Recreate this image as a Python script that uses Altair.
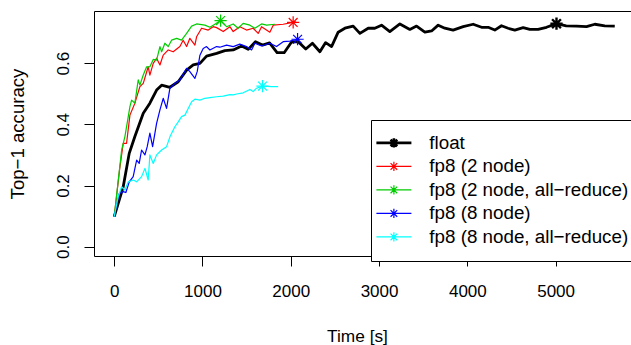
import altair as alt
import pandas as pd

# ---- data ----
series_names = ["float", "fp8 (2 node)", "fp8 (2 node, all\u2212reduce)",
                "fp8 (8 node)", "fp8 (8 node, all\u2212reduce)"]
series_colors = ["#000000", "#FF0000", "#00CD00", "#0000FF", "#00FFFF"]

float_t = [0, 102, 170, 234, 329, 404, 480, 537, 631, 725, 820, 895, 971, 1046, 1160,
           1254, 1348, 1443, 1518, 1600, 1680, 1760, 1845, 1925, 2009, 2084, 2170, 2245,
           2330, 2395, 2462, 2537, 2613, 2707, 2783, 2877, 2952, 3028, 3122, 3236, 3349,
           3425, 3519, 3595, 3670, 3745, 3839, 3953, 4066, 4161, 4236, 4311, 4387, 4462,
           4538, 4632, 4708, 4802, 4897, 5010, 5120, 5237, 5350, 5444, 5557, 5670]
float_acc = [0.098, 0.196, 0.305, 0.360, 0.436, 0.469, 0.512, 0.528, 0.521, 0.539, 0.577,
             0.594, 0.599, 0.623, 0.632, 0.641, 0.643, 0.656, 0.645, 0.670, 0.659, 0.666,
             0.634, 0.634, 0.669, 0.670, 0.646, 0.665, 0.637, 0.667, 0.654, 0.701, 0.714,
             0.721, 0.697, 0.714, 0.714, 0.724, 0.703, 0.728, 0.710, 0.721, 0.701, 0.705,
             0.724, 0.714, 0.708, 0.719, 0.727, 0.717, 0.717, 0.708, 0.722, 0.714, 0.708,
             0.716, 0.710, 0.710, 0.717, 0.729, 0.722, 0.721, 0.719, 0.727, 0.722, 0.721]

red_t = [0, 60, 102, 140, 178, 234, 291, 329, 385, 404, 442, 480, 518, 555, 612, 668, 744,
         781, 820, 857, 914, 933, 990, 1065, 1121, 1160, 1235, 1310, 1348, 1423, 1499,
         1574, 1631, 1669, 1763, 1801, 1914, 2027, 2060]
red_acc = [0.098, 0.250, 0.338, 0.338, 0.430, 0.469, 0.523, 0.534, 0.588, 0.561, 0.599,
           0.616, 0.594, 0.626, 0.643, 0.637, 0.654, 0.675, 0.654, 0.681, 0.659, 0.686,
           0.714, 0.708, 0.719, 0.716, 0.703, 0.719, 0.703, 0.719, 0.708, 0.714, 0.697,
           0.719, 0.701, 0.724, 0.727, 0.733, 0.735]

green_t = [0, 84, 121, 178, 197, 234, 272, 291, 329, 367, 404, 442, 480, 518, 537, 574, 612,
           650, 707, 763, 820, 877, 933, 1027, 1084, 1140, 1205, 1273, 1348, 1404, 1461,
           1537, 1593, 1669, 1726, 1820]
green_acc = [0.098, 0.316, 0.360, 0.458, 0.479, 0.469, 0.545, 0.528, 0.561, 0.588, 0.588,
             0.612, 0.610, 0.654, 0.637, 0.665, 0.654, 0.675, 0.681, 0.675, 0.697, 0.721,
             0.728, 0.724, 0.717, 0.727, 0.739, 0.719, 0.728, 0.714, 0.730, 0.724, 0.714,
             0.728, 0.724, 0.727]

blue_t = [0, 57, 102, 132, 170, 215, 254, 283, 310, 348, 374, 404, 435, 480, 518, 555, 593,
          631, 687, 744, 820, 857, 914, 940, 971, 1008, 1046, 1084, 1160, 1197, 1273, 1348,
          1423, 1499, 1556, 1593, 1669, 1763, 1839, 1914, 1990, 2077, 2100]
blue_acc = [0.098, 0.174, 0.180, 0.177, 0.212, 0.229, 0.283, 0.272, 0.316, 0.300, 0.327,
            0.371, 0.327, 0.403, 0.447, 0.485, 0.452, 0.518, 0.534, 0.545, 0.583, 0.572,
            0.550, 0.572, 0.626, 0.648, 0.654, 0.643, 0.654, 0.652, 0.659, 0.654, 0.662,
            0.654, 0.643, 0.665, 0.656, 0.665, 0.654, 0.670, 0.672, 0.678, 0.676]

cyan_t = [0, 45, 84, 121, 159, 215, 254, 310, 348, 385, 404, 442, 480, 537, 593, 631, 687,
          725, 763, 801, 838, 877, 914, 971, 1027, 1084, 1160, 1235, 1310, 1348, 1386, 1461,
          1537, 1574, 1612, 1680, 1782, 1857]
cyan_acc = [0.098, 0.163, 0.196, 0.185, 0.212, 0.218, 0.212, 0.229, 0.256, 0.218, 0.300,
            0.272, 0.300, 0.316, 0.327, 0.359, 0.392, 0.408, 0.425, 0.430, 0.452, 0.474,
            0.482, 0.479, 0.485, 0.487, 0.490, 0.492, 0.497, 0.496, 0.499, 0.503, 0.514,
            0.507, 0.518, 0.525, 0.523, 0.523]

# marked (best) points
star_series = series_names
star_t = [5010, 2027, 1205, 2077, 1680]
star_acc = [0.729, 0.733, 0.739, 0.678, 0.525]

x_ticks = [0, 1000, 2000, 3000, 4000, 5000]
y_ticks = [0.0, 0.2, 0.4, 0.6]

# ---- build tables ----
rows = []
for name, ts, accs in zip(series_names,
                          [float_t, red_t, green_t, blue_t, cyan_t],
                          [float_acc, red_acc, green_acc, blue_acc, cyan_acc]):
    for t, a in zip(ts, accs):
        rows.append({"series": name, "t": t, "acc": a})
lines_df = pd.DataFrame(rows)
stars_df = pd.DataFrame({"series": star_series, "t": star_t, "acc": star_acc})

FONT = "Liberation Sans"
legend_path = ("M-1,0L1,0M0,-0.26L0,0.26M-0.26,0L0.26,0"
               "M-0.19,-0.19L0.19,0.19M-0.19,0.19L0.19,-0.19")
star_path = ("M-1,0L1,0M0,-1L0,1M-0.72,-0.72L0.72,0.72M-0.72,0.72L0.72,-0.72")

x_scale = alt.Scale(domain=[-229, 5854], nice=False, zero=False)
y_scale = alt.Scale(domain=[-0.0304, 0.7703], nice=False, zero=False)

legend = alt.Legend(
    title=None, orient="none", legendX=277, legendY=109,
    symbolType=legend_path, symbolSize=1225,
    symbolStrokeWidth={"expr": "datum.value === 'float' ? 2.6 : 1.2"},
    symbolOffset=0, labelOffset=26, labelFont=FONT, labelFontSize=18.8,
    labelColor="black", labelLimit=400, rowPadding=3.5, padding=13.5,
    strokeColor="black", fillColor="white", cornerRadius=0,
)
color_enc = alt.Color("series:N",
                      scale=alt.Scale(domain=series_names, range=series_colors),
                      legend=legend)

y_axis = alt.Axis(values=y_ticks, format=".1f", title="Top\u22121 accuracy",
                  labelAngle=270, labelAlign="center", labelBaseline="bottom",
                  labelPadding=12, titleAngle=270, titleX=-76.5, titleY=122.5,
                  titleBaseline="middle", titleAlign="center", titleFontSize=18.6)

x_enc = alt.X("t:Q", scale=x_scale,
              axis=alt.Axis(orient="bottom", values=x_ticks, title="Time [s]", format="d",
                            titleX=263, titleY=80.5, titleBaseline="middle",
                            titleAlign="center", titleFontSize=17.3))
y_enc = alt.Y("acc:Q", scale=y_scale, axis=y_axis)

lines = alt.Chart(lines_df).mark_line(strokeJoin="round").encode(
    x=x_enc, y=y_enc, color=color_enc,
    strokeWidth=alt.condition(alt.datum.series == "float", alt.value(2.8), alt.value(1.2)),
    order="t:Q",
)

stars = alt.Chart(stars_df).mark_point(shape=star_path, size=150, filled=False,
                                       opacity=1).encode(
    x=alt.X("t:Q", scale=x_scale, axis=None),
    y=alt.Y("acc:Q", scale=y_scale, axis=y_axis),
    color=color_enc,
    strokeWidth=alt.condition(alt.datum.series == "float", alt.value(2.4), alt.value(1.2)),
)

# top frame line of the plot box
top_frame = alt.Chart(stars_df).mark_point(opacity=0).encode(
    x=alt.X("t:Q", scale=x_scale,
            axis=alt.Axis(orient="top", labels=False, ticks=False, title=None,
                          domain=True, domainColor="black", domainWidth=1)),
)

chart = alt.layer(lines, stars, top_frame).resolve_axis(x="independent").properties(
    width=537, height=245,
    padding={"left": 94, "top": 11, "right": 0, "bottom": 89},
    autosize=alt.AutoSizeParams(type="none"),
    background="white",
).configure_view(stroke=None).configure_axis(
    grid=False, domain=True, domainColor="black", domainWidth=1,
    tickColor="black", tickSize=10, tickWidth=1,
    labelFont=FONT, labelFontSize=17, labelColor="black",
    titleFont=FONT, titleFontSize=17, titleColor="black", titleFontWeight="normal",
).configure_axisX(labelPadding=17)

chart.save("out.html", embed_options={"renderer": "svg", "actions": False})
